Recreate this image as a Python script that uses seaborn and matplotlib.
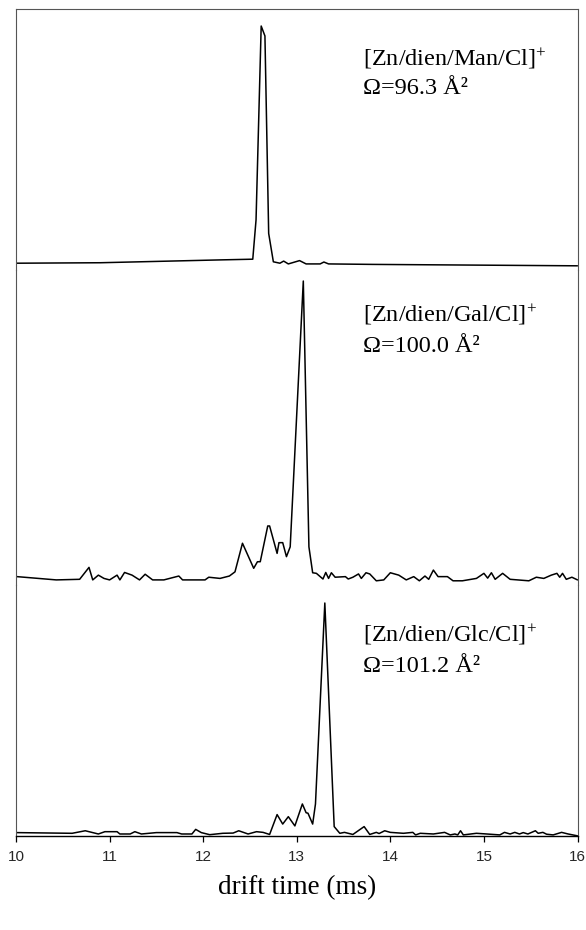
import matplotlib
matplotlib.use("Agg")
import matplotlib.pyplot as plt
import seaborn as sns
import pandas as pd

# ---------------- data ----------------
man_t = [10.00, 10.90, 12.18, 12.53, 12.565, 12.62, 12.66, 12.70, 12.75, 12.82, 12.86,
         12.91, 13.03, 13.10, 13.25, 13.29, 13.34, 13.81, 16.00]
man_i = [-0.3, -0.1, 1.1, 1.4, 18.0, 100.0, 95.8, 12.3, 0.3, -0.3, 0.6,
         -0.6, 0.8, -0.6, -0.6, 0.2, -0.6, -0.8, -1.4]

gal_t = [10.01, 10.43, 10.68, 10.78, 10.82, 10.88, 10.94, 11.00, 11.08, 11.11, 11.16,
         11.24, 11.32, 11.38, 11.46, 11.58, 11.74, 11.78, 12.02, 12.06, 12.18, 12.28,
         12.34, 12.42, 12.54, 12.58, 12.61, 12.69, 12.71, 12.79, 12.81, 12.85, 12.89,
         12.93, 13.07, 13.13, 13.17, 13.21, 13.28, 13.31, 13.34, 13.37, 13.41, 13.52,
         13.55, 13.60, 13.66, 13.69, 13.74, 13.78, 13.85, 13.93, 14.00, 14.09, 14.17,
         14.25, 14.31, 14.37, 14.41, 14.46, 14.51, 14.61, 14.67, 14.77, 14.92, 15.00,
         15.04, 15.08, 15.12, 15.20, 15.28, 15.36, 15.48, 15.56, 15.64, 15.72, 15.78,
         15.81, 15.84, 15.88, 15.94, 16.00]
gal_i = [0.8, -0.3, -0.1, 3.9, -0.3, 1.3, 0.2, -0.3, 1.3, -0.3, 2.2,
         1.3, -0.3, 1.6, -0.3, -0.3, 1.0, -0.3, -0.3, 0.6, 0.2, 1.0,
         2.4, 12.0, 3.6, 5.8, 5.8, 17.8, 17.8, 8.6, 12.2, 12.2, 7.5,
         10.8, 100.0, 10.8, 2.1, 1.9, 0.0, 2.2, 0.2, 2.1, 0.6, 0.8,
         0.0, 0.6, 1.7, 0.2, 2.1, 1.7, -0.6, -0.3, 2.1, 1.3, -0.3,
         0.8, -0.6, 1.0, -0.1, 3.0, 0.8, 0.8, -0.6, -0.6, 0.2, 1.9,
         0.3, 2.1, -0.1, 1.9, -0.1, -0.3, -0.6, 0.6, 0.2, 1.3, 1.9,
         0.6, 1.9, -0.1, 0.6, -0.3]

glc_t = [10.00, 10.60, 10.74, 10.88, 10.95, 11.08, 11.11, 11.22, 11.27, 11.34, 11.50,
         11.72, 11.77, 11.88, 11.92, 11.98, 12.07, 12.21, 12.32, 12.38, 12.48, 12.57,
         12.64, 12.71, 12.79, 12.85, 12.91, 12.98, 13.06, 13.10, 13.12, 13.17, 13.20,
         13.30, 13.40, 13.46, 13.51, 13.60, 13.72, 13.78, 13.85, 13.88, 13.94, 14.00,
         14.14, 14.24, 14.27, 14.32, 14.46, 14.58, 14.64, 14.69, 14.72, 14.75, 14.78,
         14.92, 15.03, 15.17, 15.22, 15.28, 15.33, 15.38, 15.42, 15.47, 15.55, 15.58,
         15.63, 15.67, 15.74, 15.83, 15.90, 16.00]
glc_i = [0.6, 0.3, 1.4, 0.0, 1.0, 1.0, 0.0, 0.0, 1.0, 0.0, 0.6,
         0.6, 0.0, 0.0, 2.0, 0.6, -0.3, 0.3, 0.4, 1.4, 0.0, 1.0,
         0.7, -0.2, 8.4, 4.3, 7.5, 3.5, 13.0, 9.2, 9.0, 4.3, 13.0,
         100.0, 3.2, 0.3, 0.7, -0.2, 3.2, -0.2, 0.7, 0.2, 1.4, 0.7,
         0.3, 0.7, -0.4, 0.3, 0.0, 0.7, -0.4, 0.0, -0.4, 1.4, -0.4,
         0.3, 0.0, -0.4, 0.7, 0.0, 0.7, 0.0, 0.6, 0.0, 1.4, 0.3,
         0.7, -0.1, -0.4, 0.7, 0.0, -0.8]

ion_labels = [r"[Zn/dien/Man/Cl]$^{+}$", r"[Zn/dien/Gal/Cl]$^{+}$", r"[Zn/dien/Glc/Cl]$^{+}$"]
omega_labels = ["Ω=96.3 Å²", "Ω=100.0 Å²", "Ω=101.2 Å²"]
x_ticks = [10, 11, 12, 13, 14, 15, 16]
x_label = "drift time (ms)"

# ---------------- style ----------------
sns.set_style("white")
plt.rcParams["font.family"] = ["Liberation Serif", "DejaVu Serif"]
plt.rcParams["mathtext.fontset"] = "custom"
plt.rcParams["mathtext.rm"] = "Liberation Serif"
plt.rcParams["mathtext.it"] = "Liberation Serif:italic"
plt.rcParams["mathtext.bf"] = "Liberation Serif:bold"

W, H = 586, 930
fig = plt.figure(figsize=(W / 100, H / 100), dpi=100)
fig.patch.set_facecolor("white")

def px_axes(top, bottom, left=16, right=577.5):
    return fig.add_axes([left / W, 1 - bottom / H, (right - left) / W, (bottom - top) / H])

# axes pixel extents, and y-limits
panels = [
    (9, 270, (-3.17, 107.2)),
    (270, 585, (-2.01, 103.7)),
    (585, 836, (-0.87, 107.8)),
]
series = [(man_t, man_i), (gal_t, gal_i), (glc_t, glc_i)]
label_y = [(59, 89), (315, 346), (635, 666)]

frame_col = "#555555"
for k, ((top, bot, ylim), (t, inten)) in enumerate(zip(panels, series)):
    ax = px_axes(top, bot)
    df = pd.DataFrame({"t": t, "i": inten})
    sns.lineplot(data=df, x="t", y="i", ax=ax, color="black", lw=1.1,
                 estimator=None, sort=False)
    ax.set_xlim(10, 16)
    ax.set_ylim(*ylim)
    ax.set_xlabel("")
    ax.set_ylabel("")
    ax.set_yticks([])
    ax.patch.set_alpha(0)
    for s in ["left", "right", "top", "bottom"]:
        ax.spines[s].set_visible(False)
    ax.spines["left"].set_visible(True)
    ax.spines["right"].set_visible(True)
    ax.spines["left"].set_color(frame_col)
    ax.spines["right"].set_color(frame_col)
    ax.spines["left"].set_linewidth(0.8)
    ax.spines["right"].set_linewidth(0.8)
    if k == 0:
        ax.spines["top"].set_visible(True)
        ax.spines["top"].set_color(frame_col)
        ax.spines["top"].set_linewidth(0.8)
    if k == 2:
        ax.spines["bottom"].set_visible(True)
        ax.spines["bottom"].set_color("black")
        ax.spines["bottom"].set_linewidth(1.0)
        ax.set_xticks(x_ticks)
        ax.set_xticklabels([str(v) for v in x_ticks],
                           fontfamily="Liberation Sans", fontsize=11)
        ax.tick_params(axis="x", direction="out", length=4, width=0.9,
                       color="black", pad=6, bottom=True)
    else:
        ax.set_xticks([])

    y1, y2 = label_y[k]
    fig.text(363 / W, 1 - y1 / H, ion_labels[k], fontsize=17.5,
             ha="left", va="center", color="black")
    fig.text(363 / W, 1 - y2 / H, omega_labels[k], fontsize=17.5,
             ha="left", va="center", color="black")

fig.text(297 / W, 1 - 888 / H, x_label, fontsize=19.5, ha="center", va="center",
         color="black")

fig.savefig("out.png", dpi=100, facecolor="white")
